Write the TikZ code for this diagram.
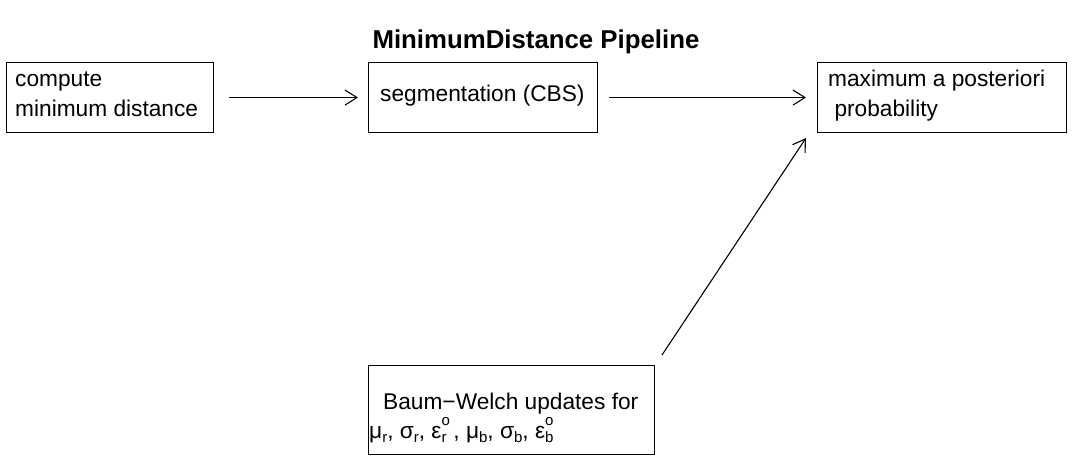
\documentclass[tikz,border=0pt]{standalone}
\usepackage{fontspec}
\setmainfont{Liberation Sans}
\usetikzlibrary{arrows.meta}
\newcommand\subtxt[1]{\raisebox{-0.22em}{\fontsize{15}{15}\selectfont #1}}
\newcommand\supsubtxt[2]{\rlap{\raisebox{0.55em}{\fontsize{15}{15}\selectfont #1}}\raisebox{-0.22em}{\fontsize{15}{15}\selectfont #2}}
\begin{document}
\begin{tikzpicture}[x=1pt,y={(0pt,-1pt)},
  box/.style={draw, line width=1.1pt, inner sep=0pt, anchor=north west},
  lbl/.style={anchor=base west, inner sep=0pt, font=\fontsize{22.7}{27}\selectfont},
  conn/.style={line width=1.1pt, -{Straight Barb[length=12pt,width=15pt,line width=1.1pt]}}]
\useasboundingbox (0,0) rectangle (1073,462);
\fill[white] (0,0) rectangle (1073,462);
\node[font=\fontsize{25.8}{30}\bfseries, anchor=base] (title) at (536,49) {MinimumDistance Pipeline};
% boxes
\node[box, minimum width=207pt, minimum height=70pt] (b1) at (6,62) {};
\node[box, minimum width=229pt, minimum height=70pt] (b2) at (368,62) {};
\node[box, minimum width=249pt, minimum height=70pt] (b3) at (817,62) {};
\node[box, minimum width=286pt, minimum height=89pt] (b4) at (368,365) {};
% texts
\node[lbl] (t1a) at (15,87) {compute};
\node[lbl] (t1b) at (15,117) {minimum distance};
\node[lbl] (t2) at (380,102) {segmentation (CBS)};
\node[lbl] (t3a) at (828,87) {maximum a posteriori};
\node[lbl] (t3b) at (828,117) {\ probability};
\node[lbl] (t4a) at (383,409) {Baum−Welch updates for};
\node[lbl] (t4b) at (369,438) {μ\subtxt{r}, σ\subtxt{r}, ε\supsubtxt{o}{r}\hspace{0.3em}, μ\subtxt{b}, σ\subtxt{b}, ε\supsubtxt{o}{b}};
% connectors
\coordinate (c3s) at (662,355);
\coordinate (c3e) at (806,138);
\draw[conn, shorten <=15pt, shorten >=10pt] (b1.east) -- (b2.west |- b1.east);
\draw[conn, shorten <=11pt, shorten >=11pt] (b2.east) -- (b3.west |- b2.east);
\draw[conn] (c3s) -- (c3e);
\end{tikzpicture}
\end{document}
